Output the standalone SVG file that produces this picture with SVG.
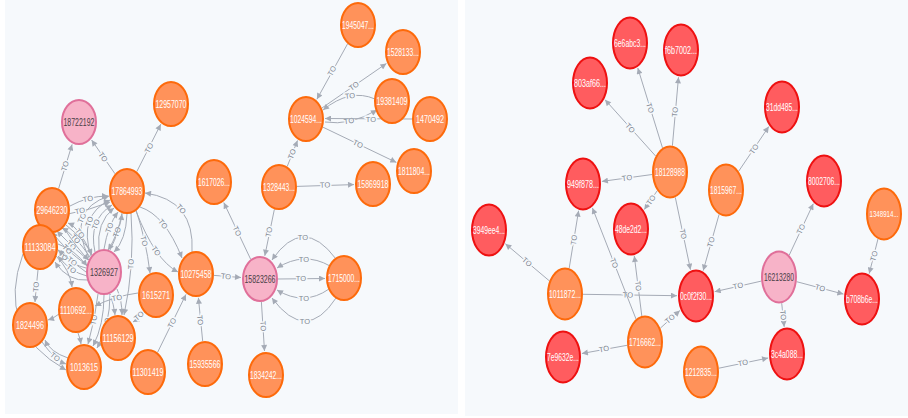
<svg xmlns="http://www.w3.org/2000/svg" width="908" height="418" viewBox="0 0 908 418">
<style>
.panel{fill:#f6f9fc}
.e{fill:none;stroke:#a5abb6;stroke-width:1;marker-end:url(#ah)}
.el{font-family:"Liberation Sans",Arial,sans-serif;font-size:7.5px;fill:#7d8591;text-anchor:middle;dominant-baseline:central;stroke:#f6f9fc;stroke-width:3;paint-order:stroke}
.o{fill:#ff925a;stroke:#fd6a0b;stroke-width:2}
.r{fill:#ff5c5f;stroke:#ee1111;stroke-width:2}
.p{fill:#f7b3c8;stroke:#e0709a;stroke-width:2}
.t{font-family:"Liberation Sans",Arial,sans-serif;font-size:10.5px;fill:#ffffff;text-anchor:middle;dominant-baseline:central}
.tp{font-family:"Liberation Sans",Arial,sans-serif;font-size:10.5px;fill:#4a3f47;text-anchor:middle;dominant-baseline:central}
</style>
<defs>
<marker id="ah" viewBox="0 0 8 8" refX="8" refY="4" markerWidth="7" markerHeight="6" markerUnits="userSpaceOnUse" orient="auto">
<path d="M0,0 L8,4 L0,8 z" fill="#a5abb6"/>
</marker>
</defs>
<rect x="0" y="0" width="908" height="418" fill="#ffffff"/>
<rect class="panel" x="5" y="0" width="453" height="414"/>
<rect class="panel" x="465" y="0" width="443" height="416"/>

<g id="edges">
<!-- left panel: right cluster -->
<path class="e" d="M347.6,43.8 L316.9,99.3"/><text class="el" transform="translate(332,71) rotate(-61)">TO</text>
<path class="e" d="M321.8,108.1 L386.4,63.5"/><text class="el" transform="translate(354,86) rotate(-34.6)">TO</text>
<path class="e" d="M375,99 Q350,88 323,110"/><text class="el" transform="translate(350,96) rotate(-6)">TO</text>
<path class="e" d="M325,122 Q350,126 377,110"/><text class="el" transform="translate(349,121) rotate(-8)">TO</text>
<path class="e" d="M412,119 L325,118.5"/><text class="el" transform="translate(371,119)">TO</text>
<path class="e" d="M322.8,127.1 L396.3,162.4"/><text class="el" transform="translate(358,144) rotate(25.7)">TO</text>
<path class="e" d="M287.2,166.5 L297.5,140.5"/><text class="el" transform="translate(292,154) rotate(-68.3)">TO</text>
<path class="e" d="M297,186.4 L354,184.6"/><text class="el" transform="translate(325,185) rotate(-1.8)">TO</text>
<path class="e" d="M274.4,209.2 L264.8,255.8"/><text class="el" transform="translate(269,232) rotate(-78.3)">TO</text>
<path class="e" d="M250.7,259.3 L223.8,202.6"/><text class="el" transform="translate(237,231) rotate(64.6)">TO</text>
<path class="e" d="M278,279 L325,278.5"/><text class="el" transform="translate(301,278.5)">TO</text>
<path class="e" d="M336,259 Q303,214.5 272,260"/><text class="el" transform="translate(303,237)">TO</text>
<path class="e" d="M330,266 Q304,251 277,268"/><text class="el" transform="translate(304,259)">TO</text>
<path class="e" d="M329,289 Q304,306.5 277,290"/><text class="el" transform="translate(304,298)">TO</text>
<path class="e" d="M336,298 Q306,344 272,298"/><text class="el" transform="translate(305,321)">TO</text>
<path class="e" d="M261.4,302 L264.5,351"/><text class="el" transform="translate(263,326) rotate(86.4)">TO</text>
<path class="e" d="M214,275.4 L241,277.5"/><text class="el" transform="translate(226,276.5) rotate(4.5)">TO</text>
<path class="e" d="M202.7,341.2 L198.4,297.8"/><text class="el" transform="translate(200,320) rotate(84.3)">TO</text>
<path class="e" d="M157.5,352.5 L186,294.4"/><text class="el" transform="translate(172,323) rotate(-63.9)">TO</text>
<!-- left panel: main tangle -->
<path class="e" d="M115,173.8 L91.6,140"/><text class="el" transform="translate(103,157) rotate(55.2)">TO</text>
<path class="e" d="M136.8,171.6 L160.8,124.2"/><text class="el" transform="translate(149,148) rotate(-63.2)">TO</text>
<path class="e" d="M58.6,188.6 L72.1,144.4"/><text class="el" transform="translate(65,166) rotate(-73)">TO</text>
<path class="e" d="M104,249 Q108,225 118,212"/><text class="el" transform="translate(109.5,227.8) rotate(-69)">TO</text>
<path class="e" d="M99,250 Q96,222 114,208"/>
<path class="e" d="M95,252 Q88,220 112,205"/><text class="el" transform="translate(95.8,224.3) rotate(-70)">TO</text>
<path class="e" d="M91,256 Q78,215 110,200"/><text class="el" transform="translate(89.3,221.5) rotate(-71)">TO</text>
<path class="e" d="M89,258 Q66,210 109,196"/><text class="el" transform="translate(82,218) rotate(-65)">TO</text>
<path class="e" d="M110,250 Q120,230 122,214"/><text class="el" transform="translate(117,232) rotate(-72)">TO</text>
<path class="e" d="M122,213 Q118,235 108,250"/>
<path class="e" d="M127,214 Q126,240 114,252"/>
<path class="e" d="M70,206 Q88,196 108,196"/><text class="el" transform="translate(88,199) rotate(-10)">TO</text>
<path class="e" d="M68,214 Q90,210 110,202"/><text class="el" transform="translate(80,211) rotate(-12)">TO</text>
<path class="e" d="M90,257 Q75,235 62,228"/><text class="el" transform="translate(75.5,238.8) rotate(46)">TO</text>
<path class="e" d="M88,260 Q70,245 57,231"/><text class="el" transform="translate(71.3,245.3) rotate(43)">TO</text>
<path class="e" d="M87,265 Q65,250 52,232"/><text class="el" transform="translate(67.3,249.3) rotate(43)">TO</text>
<path class="e" d="M91,254 Q80,228 68,223"/><text class="el" transform="translate(79.8,233.3) rotate(53)">TO</text>
<path class="e" d="M86,268 Q60,262 47,231"/><text class="el" transform="translate(63.3,255.8) rotate(43)">TO</text>
<path class="e" d="M66,225 Q85,240 92,255"/>
<path class="e" d="M64,228 Q78,250 89,260"/>
<path class="e" d="M86,272 Q72,262 58,250"/><text class="el" transform="translate(72,261.5) rotate(38)">TO</text>
<path class="e" d="M87,276 Q70,272 58,256"/><text class="el" transform="translate(71.3,269) rotate(35)">TO</text>
<path class="e" d="M88,280 Q68,282 55,262"/>
<path class="e" d="M58,244 Q75,250 87,266"/>
<path class="e" d="M98,294 Q95,320 88,344"/><text class="el" transform="translate(94,320) rotate(-80)">TO</text>
<path class="e" d="M104,295 Q104,325 93,346"/>
<path class="e" d="M110,294 Q110,325 97,348"/><text class="el" transform="translate(107,323) rotate(-82)">TO</text>
<path class="e" d="M110,294 Q114,305 115,315"/>
<path class="e" d="M117,289 Q122,300 122,315"/>
<path class="e" d="M131,213 Q135,265 124,315"/><text class="el" transform="translate(131,264) rotate(-88)">TO</text>
<path class="e" d="M136,210 Q146,240 150,273"/><text class="el" transform="translate(144,241) rotate(76)">TO</text>
<path class="e" d="M138,293 Q115,296 95,306"/><text class="el" transform="translate(117,298) rotate(-10)">TO</text>
<path class="e" d="M145,312 Q140,318 133,322"/><text class="el" transform="translate(139,316) rotate(-40)">TO</text>
<path class="e" d="M140,207 Q165,215 182,258"/><text class="el" transform="translate(163,224) rotate(52)">TO</text>
<path class="e" d="M136,211 Q155,260 178,272"/><text class="el" transform="translate(156,251) rotate(55)">TO</text>
<path class="e" d="M192,252 Q195,200 145,193"/><text class="el" transform="translate(181,209) rotate(50)">TO</text>
<path class="e" d="M38,270 Q36,288 35,302"/><text class="el" transform="translate(36,287) rotate(-86)">TO</text>
<path class="e" d="M59,314 Q54,318 48,320"/>
<path class="e" d="M42,342 Q55,360 66,364"/><text class="el" transform="translate(55,357) rotate(38)">TO</text>
<path class="e" d="M68,358 Q50,352 45,340"/>
<path class="e" d="M23,254 Q-5,330 66,370"/>
<path class="e" d="M78,333 Q80,338 81,344"/>
<path class="e" d="M56,256 Q70,270 72,287"/>
<!-- right panel -->
<path class="e" d="M655.6,156 L605,99.7"/><text class="el" transform="translate(630,128) rotate(48)">TO</text>
<path class="e" d="M662.5,147.9 L637.8,68"/><text class="el" transform="translate(650,108) rotate(72.8)">TO</text>
<path class="e" d="M672.4,145.7 L678.5,77.3"/><text class="el" transform="translate(675,112) rotate(-84.8)">TO</text>
<path class="e" d="M652.1,174.5 L601.9,181.4"/><text class="el" transform="translate(627,178) rotate(-7.9)">TO</text>
<path class="e" d="M657.3,190.6 L644.3,209.5"/><text class="el" transform="translate(651,200) rotate(-55.6)">TO</text>
<path class="e" d="M675.3,197.4 L690.5,269.7"/><text class="el" transform="translate(683,234) rotate(78.2)">TO</text>
<path class="e" d="M738.7,171.2 L768.8,126.6"/><text class="el" transform="translate(754,149) rotate(-56)">TO</text>
<path class="e" d="M719.1,214.4 L703.2,270.6"/><text class="el" transform="translate(711,242) rotate(-74.2)">TO</text>
<path class="e" d="M789.2,255.2 L813.3,203.7"/><text class="el" transform="translate(801,229) rotate(-64.9)">TO</text>
<path class="e" d="M878.1,238.5 L869.2,273.6"/><text class="el" transform="translate(874,256) rotate(-74.2)">TO</text>
<path class="e" d="M761.3,281.1 L714.7,291.7"/><text class="el" transform="translate(738,286) rotate(-12.9)">TO</text>
<path class="e" d="M796.7,281.7 L843.4,294.1"/><text class="el" transform="translate(820,288) rotate(14.8)">TO</text>
<path class="e" d="M781.7,303.2 L784.2,326.8"/><text class="el" transform="translate(783,315) rotate(84.1)">TO</text>
<path class="e" d="M718.9,368.2 L768.1,358"/><text class="el" transform="translate(743,363) rotate(-11.8)">TO</text>
<path class="e" d="M549.4,280.9 L505.4,243.8"/><text class="el" transform="translate(527,262) rotate(40.1)">TO</text>
<path class="e" d="M569.2,268.2 L578.6,210.7"/><text class="el" transform="translate(574,240) rotate(-80.7)">TO</text>
<path class="e" d="M583,294.3 L677,295.7"/><text class="el" transform="translate(628,295) rotate(0.9)">TO</text>
<path class="e" d="M636,319 L592.4,207.9"/><text class="el" transform="translate(614,263) rotate(68.6)">TO</text>
<path class="e" d="M641.8,316 L634.3,256"/><text class="el" transform="translate(638,286) rotate(82.9)">TO</text>
<path class="e" d="M660.4,328.1 L679.9,310.5"/><text class="el" transform="translate(670,319) rotate(-42)">TO</text>
<path class="e" d="M627.1,345.3 L581.9,353.5"/><text class="el" transform="translate(604,349) rotate(-10.4)">TO</text>
</g>

<!-- left panel nodes -->
<g id="n18722192"><ellipse class="p" cx="79" cy="122" rx="17" ry="22"/><text class="tp" x="79" y="122" textLength="31" lengthAdjust="spacingAndGlyphs">18722192</text></g>
<g id="n12957070"><ellipse class="o" cx="171" cy="104" rx="17" ry="22"/><text class="t" x="171" y="104" textLength="31" lengthAdjust="spacingAndGlyphs">12957070</text></g>
<g id="n17864993"><ellipse class="o" cx="127" cy="191" rx="17" ry="22"/><text class="t" x="127" y="191" textLength="31" lengthAdjust="spacingAndGlyphs">17864993</text></g>
<g id="n1617026"><ellipse class="o" cx="214" cy="182" rx="17" ry="22"/><text class="t" x="214" y="182" textLength="32" lengthAdjust="spacingAndGlyphs">1617026...</text></g>
<g id="n29646230"><ellipse class="o" cx="52" cy="210" rx="17" ry="22"/><text class="t" x="52" y="210" textLength="31" lengthAdjust="spacingAndGlyphs">29646230</text></g>
<g id="n11133084"><ellipse class="o" cx="40" cy="247" rx="17" ry="22"/><text class="t" x="40" y="247" textLength="31" lengthAdjust="spacingAndGlyphs">11133084</text></g>
<g id="n1326927"><ellipse class="p" cx="104" cy="272" rx="17" ry="22"/><text class="tp" x="104" y="272" textLength="28" lengthAdjust="spacingAndGlyphs">1326927</text></g>
<g id="n1110692"><ellipse class="o" cx="76" cy="310" rx="17" ry="22"/><text class="t" x="76" y="310" textLength="32" lengthAdjust="spacingAndGlyphs">1110692...</text></g>
<g id="n1824496"><ellipse class="o" cx="30" cy="325" rx="17" ry="22"/><text class="t" x="30" y="325" textLength="28" lengthAdjust="spacingAndGlyphs">1824496</text></g>
<g id="n1615271"><ellipse class="o" cx="156" cy="295" rx="17" ry="22"/><text class="t" x="156" y="295" textLength="28" lengthAdjust="spacingAndGlyphs">1615271</text></g>
<g id="n10275458"><ellipse class="o" cx="196" cy="274" rx="17" ry="22"/><text class="t" x="196" y="274" textLength="31" lengthAdjust="spacingAndGlyphs">10275458</text></g>
<g id="n11156129"><ellipse class="o" cx="118" cy="338" rx="17" ry="22"/><text class="t" x="118" y="338" textLength="31" lengthAdjust="spacingAndGlyphs">11156129</text></g>
<g id="n1013615"><ellipse class="o" cx="84" cy="367" rx="17" ry="22"/><text class="t" x="84" y="367" textLength="28" lengthAdjust="spacingAndGlyphs">1013615</text></g>
<g id="n11301419"><ellipse class="o" cx="148" cy="372" rx="17" ry="22"/><text class="t" x="148" y="372" textLength="31" lengthAdjust="spacingAndGlyphs">11301419</text></g>
<g id="n15935566"><ellipse class="o" cx="205" cy="364" rx="17" ry="22"/><text class="t" x="205" y="364" textLength="31" lengthAdjust="spacingAndGlyphs">15935566</text></g>
<g id="n15823266"><ellipse class="p" cx="260" cy="279" rx="17" ry="22"/><text class="tp" x="260" y="279" textLength="31" lengthAdjust="spacingAndGlyphs">15823266</text></g>
<g id="n1715000"><ellipse class="o" cx="344" cy="278" rx="17" ry="22"/><text class="t" x="344" y="278" textLength="32" lengthAdjust="spacingAndGlyphs">1715000...</text></g>
<g id="n1834242"><ellipse class="o" cx="266" cy="375" rx="17" ry="22"/><text class="t" x="266" y="375" textLength="32" lengthAdjust="spacingAndGlyphs">1834242...</text></g>
<g id="n1328443"><ellipse class="o" cx="279" cy="187" rx="17" ry="22"/><text class="t" x="279" y="187" textLength="32" lengthAdjust="spacingAndGlyphs">1328443...</text></g>
<g id="n1024594"><ellipse class="o" cx="306" cy="119" rx="17" ry="22"/><text class="t" x="306" y="119" textLength="32" lengthAdjust="spacingAndGlyphs">1024594...</text></g>
<g id="n1945047"><ellipse class="o" cx="358" cy="25" rx="17" ry="22"/><text class="t" x="358" y="25" textLength="32" lengthAdjust="spacingAndGlyphs">1945047...</text></g>
<g id="n1528133"><ellipse class="o" cx="403" cy="52" rx="17" ry="22"/><text class="t" x="403" y="52" textLength="32" lengthAdjust="spacingAndGlyphs">1528133...</text></g>
<g id="n19381409"><ellipse class="o" cx="392" cy="101" rx="17" ry="22"/><text class="t" x="392" y="101" textLength="31" lengthAdjust="spacingAndGlyphs">19381409</text></g>
<g id="n1470492"><ellipse class="o" cx="430" cy="119" rx="17" ry="22"/><text class="t" x="430" y="119" textLength="28" lengthAdjust="spacingAndGlyphs">1470492</text></g>
<g id="n1811804"><ellipse class="o" cx="414" cy="171" rx="17" ry="22"/><text class="t" x="414" y="171" textLength="32" lengthAdjust="spacingAndGlyphs">1811804...</text></g>
<g id="n15869918"><ellipse class="o" cx="373" cy="184" rx="17" ry="22"/><text class="t" x="373" y="184" textLength="31" lengthAdjust="spacingAndGlyphs">15869918</text></g>

<!-- right panel nodes -->
<g id="n803af66"><ellipse class="r" cx="590" cy="83" rx="17" ry="25.5"/><text class="t" x="590" y="83" textLength="32" lengthAdjust="spacingAndGlyphs">803af66...</text></g>
<g id="n6e6abc3"><ellipse class="r" cx="630" cy="43" rx="17" ry="25.5"/><text class="t" x="630" y="43" textLength="32" lengthAdjust="spacingAndGlyphs">6e6abc3...</text></g>
<g id="nf6b7002"><ellipse class="r" cx="681" cy="50" rx="17" ry="25.5"/><text class="t" x="681" y="50" textLength="32" lengthAdjust="spacingAndGlyphs">f6b7002...</text></g>
<g id="n18128988"><ellipse class="o" cx="670" cy="172" rx="17" ry="25.5"/><text class="t" x="670" y="172" textLength="30" lengthAdjust="spacingAndGlyphs">18128988</text></g>
<g id="n949f878"><ellipse class="r" cx="583" cy="184" rx="17" ry="25.5"/><text class="t" x="583" y="184" textLength="32" lengthAdjust="spacingAndGlyphs">949f878...</text></g>
<g id="n48de2d2"><ellipse class="r" cx="631" cy="229" rx="17" ry="25.5"/><text class="t" x="631" y="229" textLength="32" lengthAdjust="spacingAndGlyphs">48de2d2...</text></g>
<g id="n1815967"><ellipse class="o" cx="726" cy="190" rx="17" ry="25.5"/><text class="t" x="726" y="190" textLength="32" lengthAdjust="spacingAndGlyphs">1815967...</text></g>
<g id="n31dd485"><ellipse class="r" cx="782" cy="107" rx="17" ry="25.5"/><text class="t" x="782" y="107" textLength="32" lengthAdjust="spacingAndGlyphs">31dd485...</text></g>
<g id="n8002706"><ellipse class="r" cx="824" cy="181" rx="17" ry="25.5"/><text class="t" x="824" y="181" textLength="32" lengthAdjust="spacingAndGlyphs">8002706...</text></g>
<g id="n1348914"><ellipse class="o" cx="884" cy="214" rx="17" ry="25.5"/><text class="t" x="884" y="214" style="font-size:8.5px" textLength="29" lengthAdjust="spacingAndGlyphs">1348914...</text></g>
<g id="n16213280"><ellipse class="p" cx="779" cy="277" rx="17" ry="25.5"/><text class="tp" x="779" y="277" textLength="30" lengthAdjust="spacingAndGlyphs">16213280</text></g>
<g id="n0c0f2f30"><ellipse class="r" cx="696" cy="296" rx="17" ry="25.5"/><text class="t" x="696" y="296" textLength="32" lengthAdjust="spacingAndGlyphs">0c0f2f30...</text></g>
<g id="nb708b6e"><ellipse class="r" cx="862" cy="299" rx="17" ry="25.5"/><text class="t" x="862" y="299" textLength="32" lengthAdjust="spacingAndGlyphs">b708b6e...</text></g>
<g id="n3c4a088"><ellipse class="r" cx="787" cy="354" rx="17" ry="25.5"/><text class="t" x="787" y="354" textLength="32" lengthAdjust="spacingAndGlyphs">3c4a088...</text></g>
<g id="n1212835"><ellipse class="o" cx="701" cy="372" rx="17" ry="25.5"/><text class="t" x="701" y="372" textLength="32" lengthAdjust="spacingAndGlyphs">1212835...</text></g>
<g id="n3949ee4"><ellipse class="r" cx="489" cy="230" rx="17" ry="25.5"/><text class="t" x="489" y="230" textLength="32" lengthAdjust="spacingAndGlyphs">3949ee4...</text></g>
<g id="n1011872"><ellipse class="o" cx="565" cy="294" rx="17" ry="25.5"/><text class="t" x="565" y="294" textLength="32" lengthAdjust="spacingAndGlyphs">1011872...</text></g>
<g id="n7e9632e"><ellipse class="r" cx="563" cy="357" rx="17" ry="25.5"/><text class="t" x="563" y="357" textLength="32" lengthAdjust="spacingAndGlyphs">7e9632e...</text></g>
<g id="n1716662"><ellipse class="o" cx="645" cy="342" rx="17" ry="25.5"/><text class="t" x="645" y="342" textLength="32" lengthAdjust="spacingAndGlyphs">1716662...</text></g>
</svg>
